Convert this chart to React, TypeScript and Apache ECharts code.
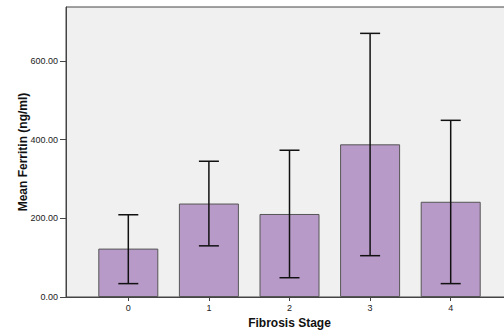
import React, { useEffect, useRef } from "react";
import * as echarts from "echarts";

const stages = ["0", "1", "2", "3", "4"];
const meanFerritin = [123, 237.5, 211, 388, 242];
const errLow = [34, 130, 49, 105, 34];
const errHigh = [209, 345, 373, 670, 449];
const yTicks = [0, 200, 400, 600];

export default function App() {
  const ref = useRef<HTMLDivElement>(null);
  useEffect(() => {
    if (!ref.current) return;
    const chart = echarts.init(ref.current, null, { renderer: "svg" });
    const barData = meanFerritin.map((v, i) => [i, v]);
    const errData = stages.map((_, i) => [i, errLow[i], errHigh[i]]);
    chart.setOption({
      animation: false,
      backgroundColor: "#ffffff",
      grid: {
        left: 66,
        top: 7,
        right: 0,
        bottom: 35.5,
        show: true,
        backgroundColor: "#f0f0f0",
        borderColor: "#444",
        borderWidth: 1,
      },
      xAxis: {
        type: "value",
        min: -0.773,
        max: 4.773,
        name: "Fibrosis Stage",
        nameLocation: "middle",
        nameGap: 20,
        nameMoveOverlap: false,
        nameTextStyle: { fontFamily: "Liberation Sans", fontWeight: "bold", fontSize: 12, color: "#111" },
        axisLine: { show: true, onZero: false, lineStyle: { color: "#444" } },
        axisTick: { show: true, length: 4, lineStyle: { color: "#444" }, customValues: [0, 1, 2, 3, 4] },
        axisLabel: {
          fontFamily: "Liberation Sans",
          fontSize: 9,
          color: "#222",
          margin: 6,
          customValues: [0, 1, 2, 3, 4],
          formatter: (v: number) => stages[Math.round(v)] ?? "",
        },
        splitLine: { show: false },
      },
      yAxis: {
        type: "value",
        min: 0,
        max: 737,
        name: "Mean Ferritin (ng/ml)",
        nameLocation: "middle",
        nameGap: 37,
        nameMoveOverlap: false,
        nameTextStyle: { fontFamily: "Liberation Sans", fontWeight: "bold", fontSize: 12, color: "#111" },
        axisLine: { show: true, onZero: false, lineStyle: { color: "#444" } },
        axisTick: { show: true, length: 6, lineStyle: { color: "#444" }, customValues: yTicks },
        axisLabel: {
          fontFamily: "Liberation Sans",
          fontSize: 9,
          color: "#222",
          margin: 8,
          customValues: yTicks,
          formatter: (v: number) => v.toFixed(2),
        },
        splitLine: { show: false },
      },
      series: [
        {
          type: "bar",
          data: barData,
          barWidth: 60,
          itemStyle: { color: "#b89ac8", borderColor: "#555", borderWidth: 1 },
        },
        {
          type: "custom",
          data: errData,
          renderItem: (params: any, api: any) => {
            const x = api.value(0);
            const lo = api.coord([x, api.value(1)]);
            const hi = api.coord([x, api.value(2)]);
            const half = 10;
            const style = { stroke: "#111", lineWidth: 1.5 };
            return {
              type: "group",
              children: [
                { type: "line", shape: { x1: lo[0], y1: lo[1], x2: hi[0], y2: hi[1] }, style },
                { type: "line", shape: { x1: hi[0] - half, y1: hi[1], x2: hi[0] + half, y2: hi[1] }, style },
                { type: "line", shape: { x1: lo[0] - half, y1: lo[1], x2: lo[0] + half, y2: lo[1] }, style },
              ],
            };
          },
          z: 10,
        },
      ],
    });
    return () => chart.dispose();
  }, []);
  return (
    <div
      ref={ref}
      style={{ position: "fixed", left: 0, top: 0, width: 513, height: 334 }}
    />
  );
}
